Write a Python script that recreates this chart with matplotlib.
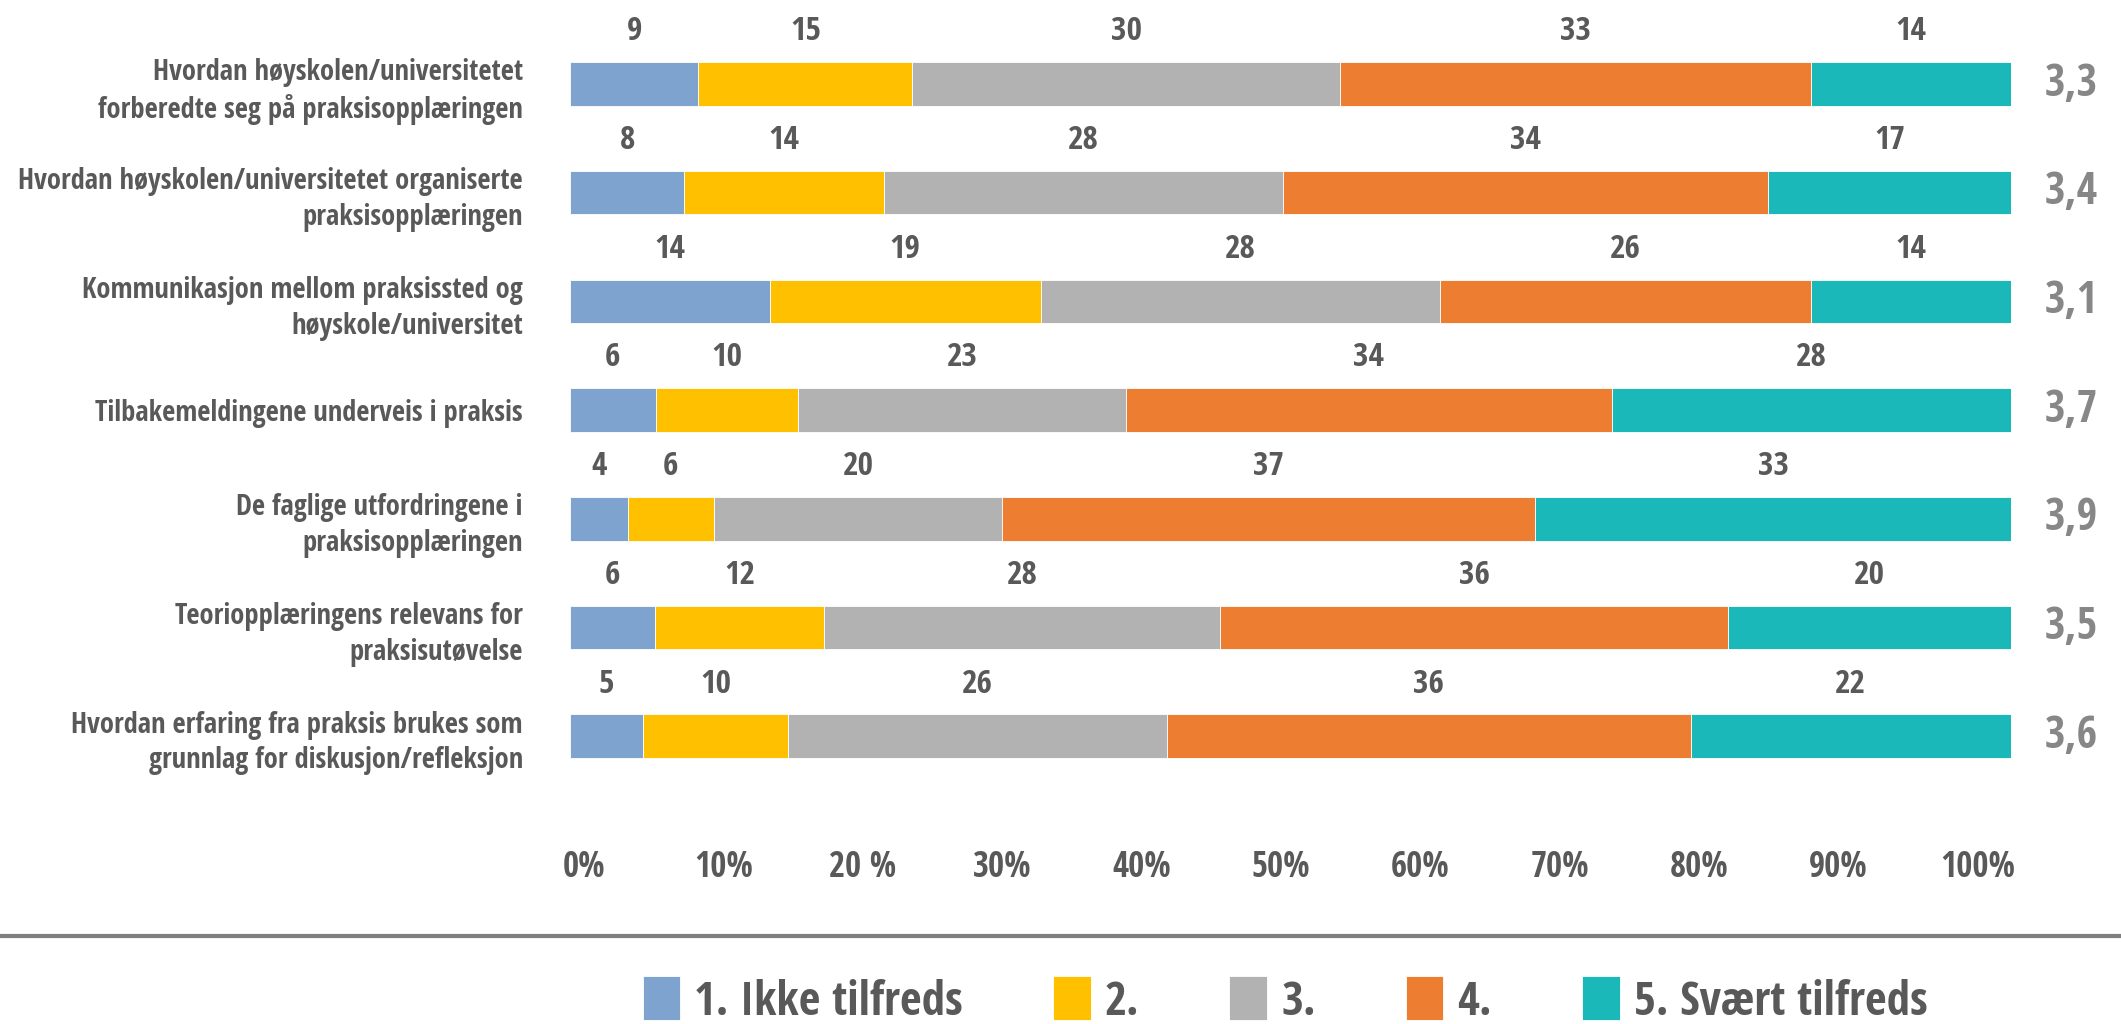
import matplotlib
matplotlib.use('Agg')
import matplotlib.pyplot as plt
from matplotlib.lines import Line2D
import numpy as np

# --- data ---
categories = [
    "Hvordan høyskolen/universitetet\nforberedte seg på praksisopplæringen",
    "Hvordan høyskolen/universitetet organiserte\npraksisopplæringen",
    "Kommunikasjon mellom praksissted og\nhøyskole/universitet",
    "Tilbakemeldingene underveis i praksis",
    "De faglige utfordringene i\npraksisopplæringen",
    "Teoriopplæringens relevans for\npraksisutøvelse",
    "Hvordan erfaring fra praksis brukes som\ngrunnlag for diskusjon/refleksjon",
]
ikke_tilfreds = [9, 8, 14, 6, 4, 6, 5]
score_2 = [15, 14, 19, 10, 6, 12, 10]
score_3 = [30, 28, 28, 23, 20, 28, 26]
score_4 = [33, 34, 26, 34, 37, 36, 36]
svaert_tilfreds = [14, 17, 14, 28, 33, 20, 22]
averages = ["3,3", "3,4", "3,1", "3,7", "3,9", "3,5", "3,6"]
series_names = ["1. Ikke tilfreds", "2.", "3.", "4.", "5. Svært tilfreds"]
tick_labels = ["0%", "10%", "20 %", "30%", "40%", "50%", "60%", "70%", "80%", "90%", "100%"]

colors = ["#7FA3CF", "#FFC000", "#B2B2B2", "#ED7D31", "#1AB8B8"]
text_color = "#595959"
avg_color = "#878787"

plt.rcParams['font.family'] = ['Liberation Sans Narrow', 'Arial Narrow', 'Open Sans Condensed',
                               'IBM Plex Sans Condensed', 'DejaVu Sans']
plt.rcParams['font.weight'] = 'bold'

W, H = 2121, 1024
fig = plt.figure(figsize=(W / 100, H / 100), dpi=100)

# main bar axes (pixel based placement)
left, right, top, bottom = 570, 2011, 20, 800
ax = fig.add_axes([left / W, 1 - bottom / H, (right - left) / W, (bottom - top) / H])

data = np.array([ikke_tilfreds, score_2, score_3, score_4, svaert_tilfreds], dtype=float)
pct = data / data.sum(axis=0) * 100
y = np.arange(len(categories))

lefts = np.zeros(len(categories))
for k in range(5):
    ax.barh(y, pct[k], left=lefts, height=0.40, color=colors[k],
            label=series_names[k], edgecolor='white', linewidth=0.6)
    for i in range(len(categories)):
        ax.text(lefts[i] + pct[k][i] / 2, y[i] - 0.48, str(int(data[k][i])),
                ha='center', va='center', fontsize=24, color=text_color,
                fontweight='bold')
    lefts += pct[k]

for i, a in enumerate(averages):
    ax.text(104.2, y[i], a, ha='center', va='center', fontsize=32,
            color=avg_color, fontweight='bold', clip_on=False)

ax.set_xlim(0, 100)
ax.set_ylim(6.587, -0.589)
ax.set_yticks(y)
ax.set_yticklabels(categories, fontsize=20.5, color=text_color,
                   fontweight='bold', linespacing=1.3)
ax.tick_params(axis='y', length=0, pad=34)
ax.set_xticks([])
for s in ax.spines.values():
    s.set_visible(False)

# percentage scale below the bars
tick_ax = fig.add_axes([584 / W, 1 - 850 / H, (1978 - 584) / W, 0.001])
tick_ax.set_xlim(0, 100)
tick_ax.set_xticks(np.arange(0, 101, 10))
tick_ax.set_xticklabels(tick_labels, fontsize=25, color=text_color, fontweight='bold')
tick_ax.tick_params(axis='x', length=0, pad=0)
tick_ax.set_yticks([])
for s in tick_ax.spines.values():
    s.set_visible(False)
tick_ax.patch.set_alpha(0)

# separator line
fig.add_artist(Line2D([0, 1], [1 - 936 / H, 1 - 936 / H], transform=fig.transFigure,
                      color="#7F7F7F", linewidth=3))

handles, labels = ax.get_legend_handles_labels()
leg = fig.legend(handles, labels, loc='center', bbox_to_anchor=(1285 / W, 1 - 1001 / H),
                 ncol=5, frameon=False, fontsize=34, handlelength=0.8, handleheight=1.05,
                 handletextpad=0.3, columnspacing=1.9)
for t in leg.get_texts():
    t.set_color(text_color)
    t.set_fontweight('bold')

plt.savefig('out.png', dpi=100)
